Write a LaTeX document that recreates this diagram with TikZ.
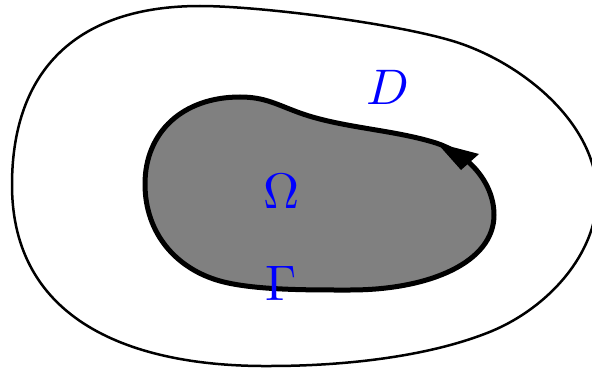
\documentclass[tikz,border=0pt]{standalone}
\begin{document}
\begin{tikzpicture}[x=1pt,y=-1pt,
  outerline/.style={draw=black,line width=2.5pt},
  innerline/.style={draw=black,fill=black!50,line width=5pt},
  lbl/.style={text=blue,scale=5,inner sep=0pt}]
\useasboundingbox (0,0) rectangle (592,369);
\clip (0,0) rectangle (592,369);
\draw[outerline] (12,185)
  .. controls (12,69) and (78,6) .. (200,6)
  .. controls (260,6) and (402,24) .. (459,43)
  .. controls (525.5,65.4) and (597,125) .. (597,195)
  .. controls (597,255) and (547,308) .. (492,331)
  .. controls (427.6,357.6) and (340,366) .. (270,366)
  .. controls (130,367) and (12,320) .. (12,185) -- cycle;
\draw[innerline] (145,184)
  .. controls (145,132) and (183,97) .. (240,97)
  .. controls (265,97) and (276.5,104.5) .. (300,113)
  .. controls (342,128) and (393,129.5) .. (436,143)
  .. controls (464.5,152) and (494,180) .. (494,215)
  .. controls (494,262) and (430,290) .. (350,290)
  .. controls (310,290) and (254,290.4) .. (220,281)
  .. controls (176.8,268.9) and (145,234) .. (145,184) -- cycle;
\fill[black] (437,143) -- (479,154) -- (461,170) -- cycle;
\node[lbl] (D) at (388,87) {$D$};
\node[lbl] (Om) at (282,191) {$\Omega$};
\node[lbl] (Ga) at (281,283) {$\Gamma$};
\end{tikzpicture}
\end{document}
